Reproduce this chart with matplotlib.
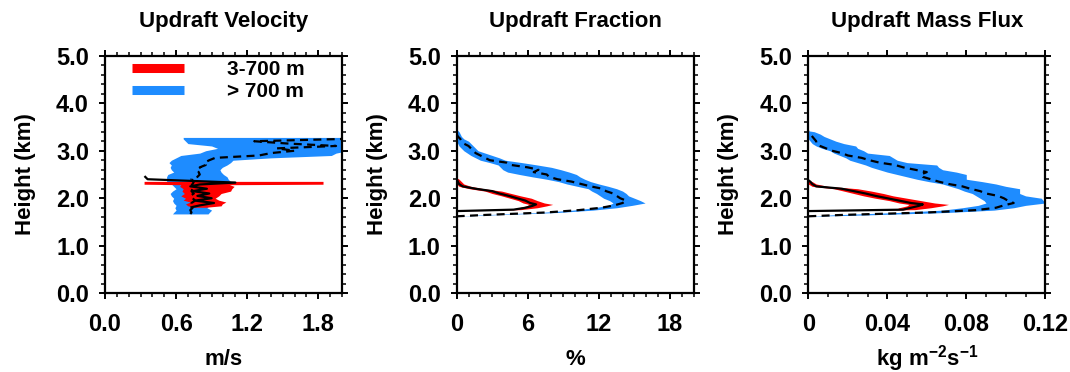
import numpy as np
import matplotlib
matplotlib.use("Agg")
import matplotlib.pyplot as plt
from matplotlib.lines import Line2D
from matplotlib.ticker import MultipleLocator, FixedLocator

plt.rcParams['font.family'] = ['Liberation Sans', 'DejaVu Sans']
plt.rcParams['font.weight'] = 'bold'
plt.rcParams['mathtext.fontset'] = 'custom'
plt.rcParams['mathtext.bf'] = 'Liberation Sans:bold'
plt.rcParams['mathtext.rm'] = 'Liberation Sans:bold'
plt.rcParams['mathtext.default'] = 'bf'

RED = '#ff0000'
BLUE = '#1e8cff'

# ---- panel 1: updraft velocity (m/s) ----
vel_hgt_blue = [1.67, 1.70, 1.75, 1.80, 1.85, 1.90, 1.95, 2.00, 2.05, 2.10, 2.15, 2.20,
                2.25, 2.30, 2.35, 2.40, 2.45, 2.50, 2.55, 2.60, 2.65, 2.70, 2.75, 2.80,
                2.85, 2.90, 2.95, 3.00, 3.05, 3.10, 3.15, 3.20, 3.25, 3.28]
vel_lo_blue = [0.57, 0.58, 0.60, 0.59, 0.60, 0.58, 0.57, 0.58, 0.56, 0.55, 0.57, 0.60,
               0.58, 0.56, 0.52, 0.52, 0.52, 0.53, 0.58, 0.56, 0.55, 0.56, 0.54, 0.56,
               0.60, 0.64, 0.80, 0.85, 0.95, 0.90, 0.70, 0.68, 0.66, 0.66]
vel_hi_blue = [0.87, 0.88, 0.90, 0.86, 0.88, 0.90, 0.88, 0.90, 0.92, 0.95, 0.93, 0.95,
               0.97, 1.00, 1.06, 1.04, 1.03, 1.00, 0.98, 0.97, 0.99, 1.03, 1.06, 1.08,
               1.40, 1.91, 1.95, 2.05, 2.05, 2.05, 2.05, 2.05, 2.05, 2.05]
vel_mean_blue = [0.72, 0.73, 0.72, 0.74, 0.75, 0.73, 0.76, 0.74, 0.72, 0.75, 0.73, 0.74,
                 0.72, 0.74, 0.75, 0.73, 0.78, 0.80, 0.79, 0.82, 0.80, 0.85, 0.84, 0.88,
                 0.93, 1.30, 1.40, 1.60, 1.45, 1.95, 1.55, 1.26, 2.05, 2.05]

vel_hgt_red = [1.81, 1.84, 1.88, 1.92, 1.96, 2.00, 2.05, 2.10, 2.15, 2.20, 2.25, 2.285,
               2.295, 2.355]
vel_lo_red = [0.75, 0.70, 0.68, 0.72, 0.66, 0.68, 0.64, 0.67, 0.65, 0.66, 0.63, 0.64,
              0.33, 0.33]
vel_hi_red = [0.85, 0.98, 0.99, 1.02, 0.96, 0.93, 0.96, 0.98, 1.06, 1.07, 1.09, 1.05,
              1.84, 1.84]
vel_hgt_red_mean = [1.81, 1.85, 1.90, 1.95, 2.00, 2.05, 2.10, 2.15, 2.20, 2.25, 2.29,
                    2.33, 2.40, 2.45]
vel_mean_red = [0.73, 0.80, 0.92, 0.76, 0.90, 0.78, 0.88, 0.74, 0.86, 0.72, 0.80,
                1.10, 0.36, 0.34]

# ---- panel 2: updraft fraction (%) ----
frac_hgt_blue = [1.62, 1.65, 1.70, 1.75, 1.80, 1.85, 1.90, 1.95, 2.00, 2.05, 2.10, 2.15,
                 2.20, 2.25, 2.30, 2.35, 2.40, 2.45, 2.50, 2.55, 2.60, 2.65, 2.70, 2.75,
                 2.80, 2.85, 2.90, 2.95, 3.00, 3.05, 3.10, 3.15, 3.20, 3.25, 3.30, 3.35,
                 3.40, 3.45]
frac_mean_blue = [0.0, 2.5, 7.5, 10.3, 12.2, 13.3, 14.0, 14.3, 13.8, 13.5, 13.2, 12.6,
                  12.3, 11.3, 10.5, 9.7, 8.5, 7.8, 7.6, 6.5, 6.9, 6.0, 4.6, 4.2,
                  2.8, 2.4, 2.0, 1.6, 1.4, 1.2, 1.0, 0.6, 0.4, 0.3, 0.1, 0.0,
                  0.0, 0.0]
frac_lo_blue = [0.0, 2.0, 7.0, 9.8, 11.6, 12.8, 13.2, 12.9, 12.4, 12.1, 11.8, 11.4,
                11.1, 10.2, 9.3, 8.6, 7.6, 6.4, 5.3, 4.3, 3.9, 3.7, 3.5, 2.8,
                2.0, 1.6, 1.2, 0.9, 0.6, 0.4, 0.2, 0.1, 0.0, 0.0, 0.0, 0.0,
                0.0, 0.0]
frac_hi_blue = [0.0, 3.0, 8.5, 11.5, 13.5, 14.8, 15.9, 15.5, 15.0, 14.5, 14.3, 14.0,
                13.5, 12.8, 12.0, 11.3, 10.8, 10.4, 10.1, 9.5, 8.8, 8.0, 6.8, 5.5,
                4.1, 3.6, 3.0, 2.4, 1.8, 1.6, 1.4, 1.2, 1.0, 0.6, 0.4, 0.3,
                0.2, 0.0]

frac_hgt_red = [1.73, 1.76, 1.80, 1.84, 1.87, 1.90, 1.95, 2.00, 2.05, 2.10, 2.15, 2.20,
                2.25, 2.30, 2.35, 2.40, 2.43]
frac_mean_red = [0.0, 4.8, 5.8, 6.4, 6.7, 6.2, 5.8, 5.1, 4.4, 3.6, 3.0, 1.6,
                 0.5, 0.2, 0.1, 0.0, 0.0]
frac_lo_red = [0.0, 4.4, 5.2, 5.9, 6.1, 5.6, 5.2, 4.5, 3.8, 3.0, 2.4, 1.1,
               0.2, 0.0, 0.0, 0.0, 0.0]
frac_hi_red = [0.0, 5.4, 6.8, 7.6, 8.1, 7.4, 6.8, 6.3, 5.4, 4.6, 3.8, 2.3,
               1.2, 0.6, 0.4, 0.2, 0.0]

# ---- panel 3: updraft mass flux (kg m-2 s-1) ----
mf_hgt_blue = [1.62, 1.65, 1.70, 1.75, 1.80, 1.85, 1.90, 1.95, 2.00, 2.05, 2.10, 2.15,
               2.20, 2.25, 2.30, 2.35, 2.40, 2.45, 2.50, 2.55, 2.60, 2.65, 2.70, 2.75,
               2.80, 2.85, 2.90, 2.95, 3.00, 3.05, 3.10, 3.15, 3.20, 3.25, 3.30, 3.35,
               3.40, 3.42]
mf_mean_blue = [0.000, 0.018, 0.060, 0.085, 0.095, 0.099, 0.104, 0.101, 0.099, 0.096,
                0.090, 0.087, 0.082, 0.078, 0.071, 0.066, 0.062, 0.058, 0.057, 0.060,
                0.054, 0.048, 0.044, 0.036, 0.031, 0.027, 0.020, 0.017, 0.012, 0.009,
                0.006, 0.004, 0.004, 0.003, 0.002, 0.001, 0.000, 0.000]
mf_lo_blue = [0.000, 0.012, 0.045, 0.068, 0.078, 0.086, 0.090, 0.089, 0.087, 0.085,
              0.083, 0.079, 0.076, 0.072, 0.068, 0.061, 0.055, 0.050, 0.045, 0.040,
              0.036, 0.032, 0.029, 0.025, 0.021, 0.019, 0.016, 0.013, 0.011, 0.007,
              0.004, 0.002, 0.001, 0.000, 0.000, 0.000, 0.000, 0.000]
mf_hi_blue = [0.000, 0.030, 0.070, 0.094, 0.104, 0.110, 0.120, 0.119, 0.118, 0.110,
              0.107, 0.107, 0.107, 0.100, 0.095, 0.088, 0.080, 0.080, 0.080, 0.075,
              0.068, 0.066, 0.065, 0.050, 0.045, 0.043, 0.041, 0.030, 0.028, 0.025,
              0.024, 0.018, 0.014, 0.011, 0.008, 0.006, 0.003, 0.000]

mf_hgt_red = [1.73, 1.76, 1.80, 1.84, 1.87, 1.90, 1.95, 2.00, 2.05, 2.10, 2.15, 2.20,
              2.25, 2.30, 2.35, 2.38]
mf_mean_red = [0.000, 0.048, 0.052, 0.056, 0.058, 0.052, 0.046, 0.040, 0.034, 0.029,
               0.023, 0.017, 0.004, 0.002, 0.001, 0.000]
mf_lo_red = [0.000, 0.044, 0.046, 0.050, 0.051, 0.046, 0.041, 0.034, 0.028, 0.023,
             0.018, 0.013, 0.002, 0.000, 0.000, 0.000]
mf_hi_red = [0.000, 0.054, 0.062, 0.068, 0.071, 0.064, 0.057, 0.050, 0.043, 0.038,
             0.032, 0.025, 0.010, 0.004, 0.002, 0.000]

titles = ['Updraft Velocity', 'Updraft Fraction', 'Updraft Mass Flux']
xlabels = ['m/s', '%', r'kg m$^{-2}$s$^{-1}$']
xlims = [(0, 2.0), (0, 20), (0, 0.12)]
xmajor = [[0.0, 0.6, 1.2, 1.8], [0, 6, 12, 18], [0, 0.04, 0.08, 0.12]]
xmajor_labels = [['0.0', '0.6', '1.2', '1.8'], ['0', '6', '12', '18'],
                 ['0', '0.04', '0.08', '0.12']]
xminor = [0.1, 1, 0.01]
yticks = [0.0, 1.0, 2.0, 3.0, 4.0, 5.0]
legend_labels = ['3-700 m', '> 700 m']

panels = [
    (vel_hgt_blue, vel_lo_blue, vel_hi_blue, vel_hgt_blue, vel_mean_blue,
     vel_hgt_red, vel_lo_red, vel_hi_red, vel_hgt_red_mean, vel_mean_red),
    (frac_hgt_blue, frac_lo_blue, frac_hi_blue, frac_hgt_blue, frac_mean_blue,
     frac_hgt_red, frac_lo_red, frac_hi_red, frac_hgt_red, frac_mean_red),
    (mf_hgt_blue, mf_lo_blue, mf_hi_blue, mf_hgt_blue, mf_mean_blue,
     mf_hgt_red, mf_lo_red, mf_hi_red, mf_hgt_red, mf_mean_red),
]

fig = plt.figure(figsize=(10.7, 3.72), dpi=100)
lefts = [0.0981, 0.4268, 0.7554]
TICK_FS = 17
LABEL_FS = 16

for i, p in enumerate(panels):
    ax = fig.add_axes([lefts[i], 0.2116, 0.2215, 0.6387])
    hb, lob, hib, hbm, mb, hr, lor, hir, hrm, mr = p
    ax.fill_betweenx(hb, lob, hib, color=BLUE, lw=0, zorder=1)
    ax.fill_betweenx(hr, lor, hir, color=RED, lw=0, zorder=2)
    ax.plot(mb, hbm, color='black', lw=1.6, ls=(0, (3.6, 2.4)), zorder=3)
    ax.plot(mr, hrm, color='black', lw=1.6, zorder=3)

    ax.set_xlim(*xlims[i])
    ax.set_ylim(0, 5)
    ax.xaxis.set_major_locator(FixedLocator(xmajor[i]))
    ax.set_xticklabels(xmajor_labels[i])
    ax.xaxis.set_minor_locator(MultipleLocator(xminor[i]))
    ax.set_yticks(yticks)
    ax.set_yticklabels(['%.1f' % v for v in yticks])
    ax.yaxis.set_minor_locator(MultipleLocator(0.2))
    ax.tick_params(which='both', direction='out', top=True, right=True,
                   labelsize=TICK_FS)
    ax.tick_params(which='major', length=4.5, width=1.4)
    ax.tick_params(which='minor', length=2.6, width=1.1)
    ax.tick_params(axis='x', which='major', pad=9.5)
    ax.tick_params(axis='y', which='major', pad=7.0)
    for s in ax.spines.values():
        s.set_linewidth(1.6)
    for lab in ax.get_xticklabels() + ax.get_yticklabels():
        lab.set_fontweight('bold')

    ax.text(0.5, 1.121, titles[i], transform=ax.transAxes, ha='center',
            va='baseline', fontsize=LABEL_FS, fontweight='bold')
    ax.text(0.5, -0.302, xlabels[i], transform=ax.transAxes, ha='center',
            va='baseline', fontsize=LABEL_FS, fontweight='bold')
    ax.text(-0.335, 0.5, 'Height (km)', transform=ax.transAxes, ha='center',
            va='center', rotation=90, fontsize=LABEL_FS, fontweight='bold')

    if i == 0:
        handles = [Line2D([], [], color=RED, lw=6.5, solid_capstyle='butt'),
                   Line2D([], [], color=BLUE, lw=6.5, solid_capstyle='butt')]
        ax.legend(handles, legend_labels, loc='upper left',
                  bbox_to_anchor=(0.114, 0.982), frameon=False, fontsize=15,
                  handlelength=2.5, handletextpad=2.07, labelspacing=0.15,
                  borderpad=0, borderaxespad=0)

fig.savefig('out.png', dpi=100)
